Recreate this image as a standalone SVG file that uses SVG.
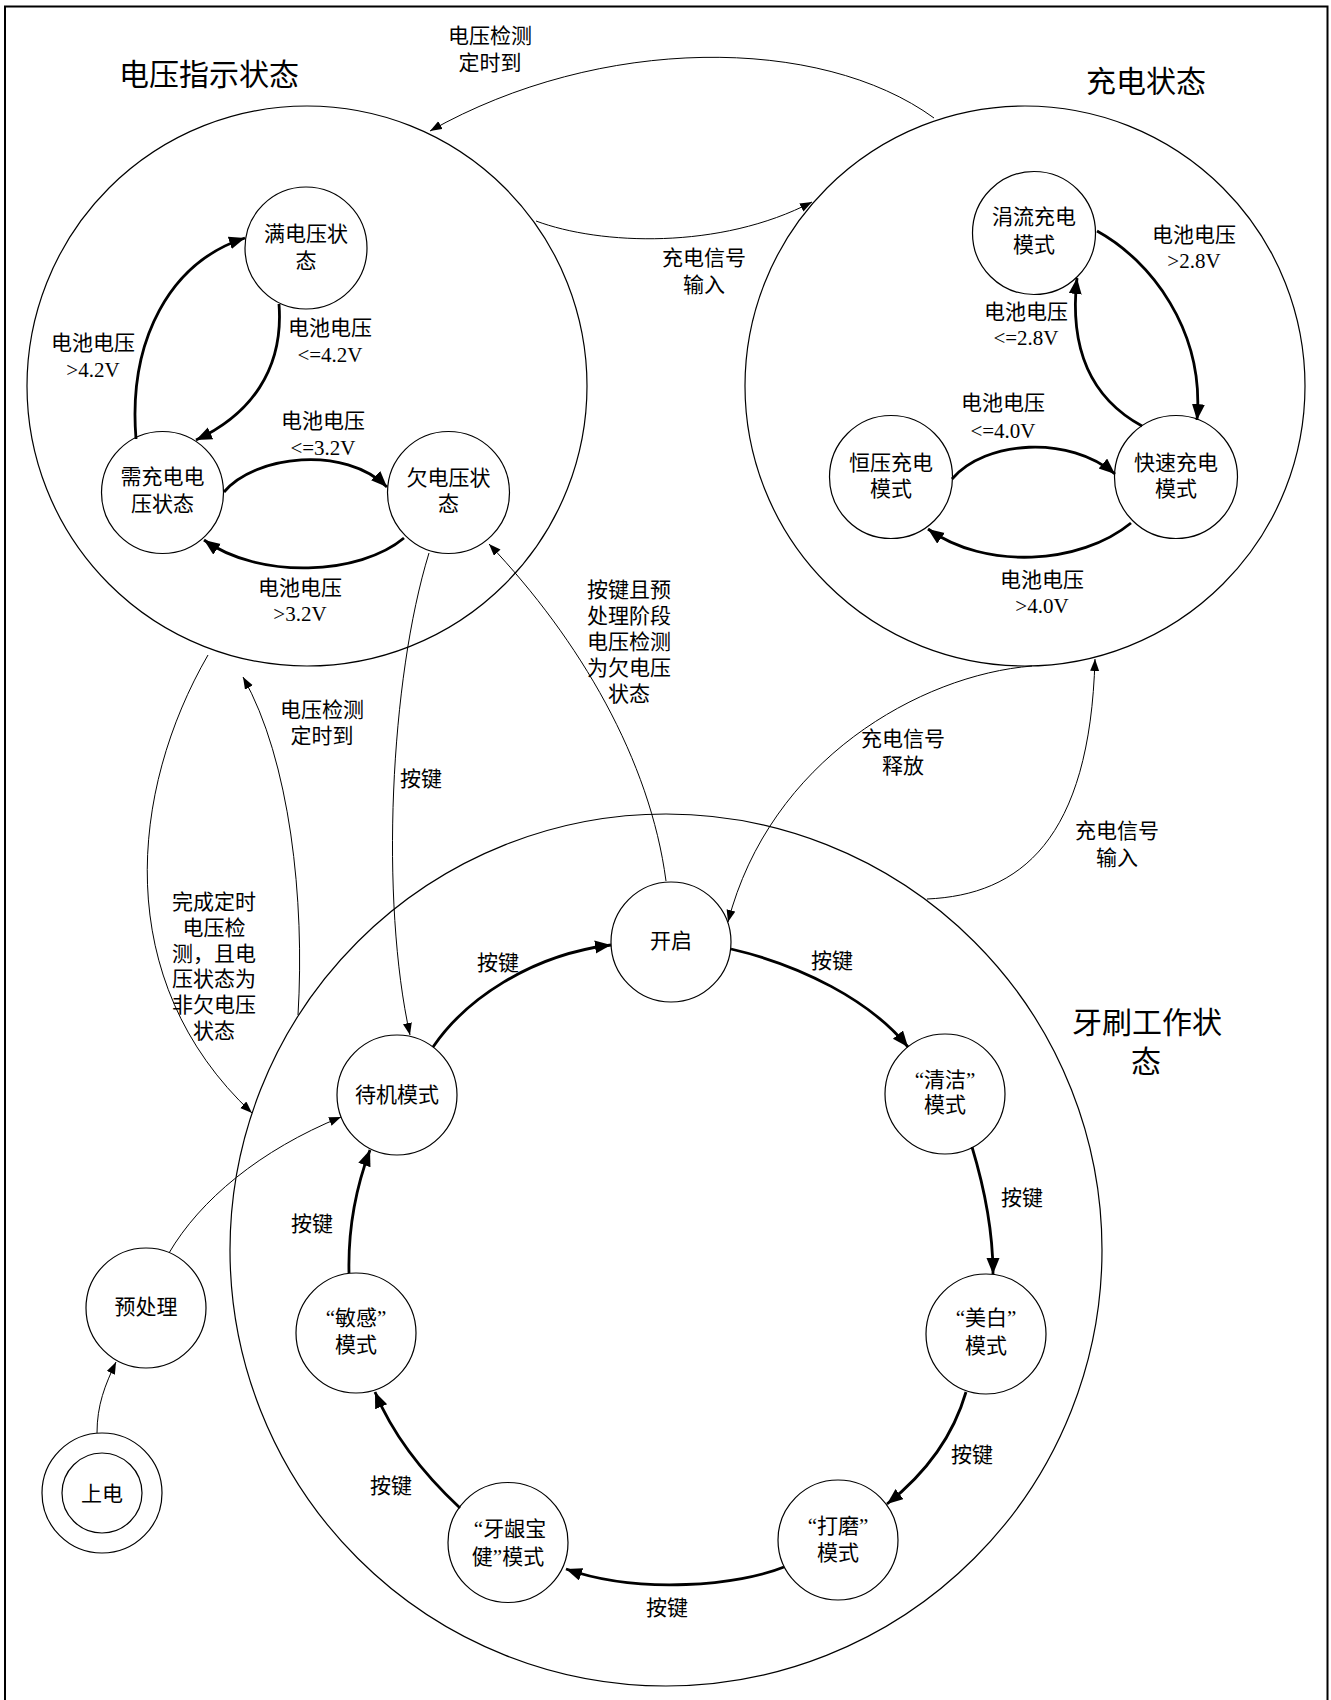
<svg xmlns="http://www.w3.org/2000/svg" width="1331" height="1700" viewBox="0 0 1331 1700">
<style>
.frame{fill:#fff;stroke:#000;stroke-width:2}
.big{fill:none;stroke:#000;stroke-width:1.2}
.node{fill:#fff;stroke:#000;stroke-width:1.2}
text{font-family:"Liberation Serif","Noto Sans CJK SC",serif;fill:#000;text-anchor:middle;dominant-baseline:central}
.t{font-size:21px}
.title{font-size:30px}
.thick{fill:none;stroke:#000;stroke-width:2.8;marker-end:url(#ah)}
.thin{fill:none;stroke:#000;stroke-width:1;marker-end:url(#as)}
</style>
<defs>
<marker id="ah" markerUnits="userSpaceOnUse" markerWidth="17" markerHeight="14" refX="16" refY="6.5" orient="auto"><path d="M0,0 L16,6.5 L0,13 z" fill="#000"/></marker>
<marker id="as" markerUnits="userSpaceOnUse" markerWidth="13" markerHeight="10" refX="12" refY="4.5" orient="auto"><path d="M0,0 L12,4.5 L0,9 z" fill="#000"/></marker>
</defs>
<rect class="frame" x="5" y="6.5" width="1322.5" height="1710"/>

<g id="voltage-state">
<circle class="big" cx="307" cy="386" r="280"/>
<text class="title" x="209" y="74">电压指示状态</text>
</g>
<g id="charge-state">
<circle class="big" cx="1025" cy="386" r="280"/>
<text class="title" x="1146" y="81">充电状态</text>
</g>
<g id="brush-state">
<circle class="big" cx="666" cy="1250" r="436"/>
<text class="title" x="1147" y="1022">牙刷工作状</text>
<text class="title" x="1146" y="1061">态</text>
</g>

<g id="n-full"><circle class="node" cx="306" cy="248" r="61"/><text class="t" x="306" y="234">满电压状</text><text class="t" x="306" y="261">态</text></g>
<g id="n-need"><circle class="node" cx="162.5" cy="492.5" r="61"/><text class="t" x="162.5" y="477">需充电电</text><text class="t" x="162.5" y="504">压状态</text></g>
<g id="n-low"><circle class="node" cx="448.5" cy="492.5" r="61"/><text class="t" x="448.5" y="478">欠电压状</text><text class="t" x="448.5" y="504">态</text></g>

<g id="n-trickle"><circle class="node" cx="1034" cy="233" r="61.5"/><text class="t" x="1034" y="217">涓流充电</text><text class="t" x="1034" y="245">模式</text></g>
<g id="n-cv"><circle class="node" cx="891" cy="477" r="61.5"/><text class="t" x="891" y="463">恒压充电</text><text class="t" x="891" y="489">模式</text></g>
<g id="n-fast"><circle class="node" cx="1176" cy="477" r="61.5"/><text class="t" x="1176" y="463">快速充电</text><text class="t" x="1176" y="489">模式</text></g>

<g id="n-on"><circle class="node" cx="671" cy="942" r="60"/><text class="t" x="671" y="941">开启</text></g>
<g id="n-standby"><circle class="node" cx="397" cy="1095" r="60"/><text class="t" x="397" y="1095">待机模式</text></g>
<g id="n-clean"><circle class="node" cx="945" cy="1094" r="60"/><text class="t" x="945" y="1080">“清洁”</text><text class="t" x="945" y="1105">模式</text></g>
<g id="n-white"><circle class="node" cx="986" cy="1334" r="60"/><text class="t" x="986" y="1318">“美白”</text><text class="t" x="986" y="1346">模式</text></g>
<g id="n-polish"><circle class="node" cx="838" cy="1540" r="60"/><text class="t" x="838" y="1526">“打磨”</text><text class="t" x="838" y="1553">模式</text></g>
<g id="n-gum"><circle class="node" cx="508" cy="1542.5" r="60"/><text class="t" x="510" y="1529">“牙龈宝</text><text class="t" x="508" y="1557">健”模式</text></g>
<g id="n-sensitive"><circle class="node" cx="356" cy="1333" r="60"/><text class="t" x="356" y="1318">“敏感”</text><text class="t" x="356" y="1345">模式</text></g>
<g id="n-pre"><circle class="node" cx="146" cy="1308" r="60"/><text class="t" x="146" y="1307">预处理</text></g>
<g id="n-power"><circle class="node" cx="102" cy="1493" r="60"/><circle class="node" cx="102" cy="1493" r="40"/><text class="t" x="102" y="1494">上电</text></g>

<g id="connectors">
<path class="thick" d="M136,439 C128,340 170,262 245,238"/>
<path class="thick" d="M279,304 C284,370 250,415 196,440"/>
<path class="thick" d="M224,492 C255,455 345,445 387,487"/>
<path class="thick" d="M404,538 C360,575 260,580 204,540"/>
<path class="thick" d="M1097,231 C1150,260 1205,330 1197,420"/>
<path class="thick" d="M1142,426 C1085,395 1070,340 1077,278"/>
<path class="thick" d="M952,479 C985,440 1070,435 1115,474"/>
<path class="thick" d="M1131,523 C1080,565 985,570 928,529"/>
<path class="thick" d="M433,1047 C465,1000 530,955 611,945"/>
<path class="thick" d="M731,949 C800,965 870,1000 908,1047"/>
<path class="thick" d="M972,1147 C985,1190 993,1230 993,1274"/>
<path class="thick" d="M966,1392 C955,1430 930,1470 887,1504"/>
<path class="thick" d="M784,1567 C740,1585 640,1595 566,1569"/>
<path class="thick" d="M460,1508 C430,1480 395,1440 375,1392"/>
<path class="thick" d="M349,1273 C348,1230 355,1190 370,1150"/>
<path class="thin" d="M934,118 C820,35 600,35 430,131"/>
<path class="thin" d="M536,221 C600,245 720,250 812,202"/>
<path class="thin" d="M208,655 C130,790 110,980 252,1113"/>
<path class="thin" d="M298,1015 C305,900 290,760 243,677"/>
<path class="thin" d="M429,553 C390,680 380,900 410,1035"/>
<path class="thin" d="M666,881 C650,760 580,640 489,544"/>
<path class="thin" d="M1032,666 C920,675 770,760 728,922"/>
<path class="thin" d="M927,899 C1020,895 1090,840 1095,659"/>
<path class="thin" d="M169,1253 C200,1200 260,1150 341,1117"/>
<path class="thin" d="M97,1433 C97,1405 105,1385 116,1362"/>
</g>

<g id="edge-labels">
<text class="t" x="490" y="36">电压检测</text><text class="t" x="490" y="63">定时到</text>
<text class="t" x="93" y="343">电池电压</text><text class="t" x="93" y="370">&gt;4.2V</text>
<text class="t" x="330" y="328">电池电压</text><text class="t" x="330" y="355">&lt;=4.2V</text>
<text class="t" x="323" y="421">电池电压</text><text class="t" x="323" y="448">&lt;=3.2V</text>
<text class="t" x="300" y="588">电池电压</text><text class="t" x="300" y="614">&gt;3.2V</text>
<text class="t" x="629" y="590">按键且预</text><text class="t" x="629" y="616">处理阶段</text><text class="t" x="629" y="642">电压检测</text><text class="t" x="629" y="668">为欠电压</text><text class="t" x="629" y="694">状态</text>
<text class="t" x="704" y="258">充电信号</text><text class="t" x="704" y="285">输入</text>
<text class="t" x="1194" y="235">电池电压</text><text class="t" x="1194" y="261">&gt;2.8V</text>
<text class="t" x="1026" y="312">电池电压</text><text class="t" x="1026" y="338">&lt;=2.8V</text>
<text class="t" x="1003" y="403">电池电压</text><text class="t" x="1003" y="431">&lt;=4.0V</text>
<text class="t" x="1042" y="580">电池电压</text><text class="t" x="1042" y="606">&gt;4.0V</text>
<text class="t" x="322" y="710">电压检测</text><text class="t" x="322" y="736">定时到</text>
<text class="t" x="421" y="779">按键</text>
<text class="t" x="214" y="902">完成定时</text><text class="t" x="214" y="928">电压检</text><text class="t" x="214" y="954">测，且电</text><text class="t" x="214" y="979">压状态为</text><text class="t" x="214" y="1005">非欠电压</text><text class="t" x="214" y="1031">状态</text>
<text class="t" x="498" y="963">按键</text>
<text class="t" x="903" y="739">充电信号</text><text class="t" x="903" y="766">释放</text>
<text class="t" x="1117" y="831">充电信号</text><text class="t" x="1117" y="858">输入</text>
<text class="t" x="832" y="961">按键</text>
<text class="t" x="1022" y="1198">按键</text>
<text class="t" x="972" y="1455">按键</text>
<text class="t" x="667" y="1608">按键</text>
<text class="t" x="312" y="1224">按键</text>
<text class="t" x="391" y="1486">按键</text>
</g>
</svg>
